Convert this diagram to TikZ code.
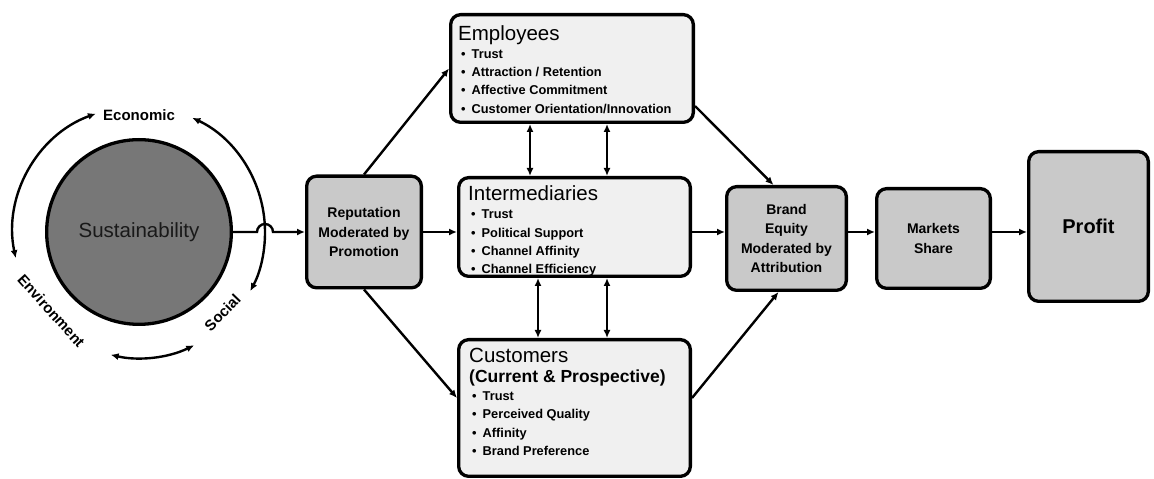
\documentclass[tikz,border=0pt]{standalone}
\usepackage{fontspec}
\setmainfont{Liberation Sans}
\usetikzlibrary{arrows.meta,positioning}
\definecolor{panelgray}{HTML}{C9C9C9}
\definecolor{panellight}{HTML}{F0F0F0}
\definecolor{coregray}{HTML}{777777}
\tikzstyle{driver}=[
	rectangle,
	rounded corners=10pt,
	line width=3.3pt,
	draw=black,
	fill=panelgray,
	align=center,
	font=\fontsize{14}{19.5}\selectfont\bfseries
]
\tikzstyle{stakeholder}=[
	rectangle,
	rounded corners=10pt,
	line width=3.3pt,
	draw=black,
	fill=panellight
]
\tikzstyle{itemlist}=[
	inner sep=0pt,
	anchor=north west,
	align=left,
	font=\fontsize{12.8}{18.3}\selectfont\bfseries
]
\tikzstyle{flow}=[
	-{Latex[length=8pt,width=7pt]},
	line width=2.4pt
]
\tikzstyle{link}=[
	{Latex[length=8pt,width=7pt]}-{Latex[length=8pt,width=7pt]},
	line width=2.4pt
]
\tikzstyle{pillar}=[
	inner sep=0pt,
	font=\fontsize{15}{15}\selectfont\bfseries
]
\newcommand{\bulletitem}{\hspace*{3pt}\textbullet\hspace{6pt}}
\newcommand{\paneltitle}[1]{{\fontsize{20.5}{18.3}\fontseries{m}\selectfont #1}}

\begin{document}
\begin{tikzpicture}[x=1pt,y=1pt]
\useasboundingbox (0,0) rectangle (1154,479);
\node [circle, draw=black, line width=3.3pt, fill=coregray, minimum size=184.7pt, inner sep=0pt,
	font=\fontsize{20.5}{22}\selectfont, text=black!90] (sus) at (139,247) {Sustainability};
% the three pillars round the core
\node [pillar] (econ) at ([shift={(90:117)}]sus.center) {Economic};
\node [pillar, rotate=-48] (envir) at ([shift={(222:118)}]sus.center) {Environment};
\node [pillar, rotate=46] (social) at ([shift={(-44:116)}]sus.center) {Social};
\draw[link] ([shift={(110:126)}]sus.center) arc[start angle=110, end angle=192, radius=126];
\draw[link] ([shift={(65:126)}]sus.center) arc[start angle=65, end angle=-28, radius=126];
\draw[link] ([shift={(257:126)}]sus.center) arc[start angle=257, end angle=296, radius=126];
% main chain
\node [driver, minimum width=114.7pt, minimum height=111.7pt, right=72pt of sus] (rep) {Reputation\\Moderated by\\Promotion};
\node [stakeholder, minimum width=231.7pt, minimum height=98.7pt, right=34pt of rep, yshift=5pt] (inter) {};
\node [stakeholder, minimum width=242.7pt, minimum height=107.7pt, above=52pt of inter, xshift=-2.5pt] (emp) {};
\node [stakeholder, minimum width=231.7pt, minimum height=136.7pt, below=60pt of inter] (cust) {};
\node [driver, minimum width=119.7pt, minimum height=103.7pt, right=33pt of inter, yshift=-11.5pt] (brand) {Brand\\Equity\\Moderated by\\Attribution};
\node [driver, minimum width=113.7pt, minimum height=99.7pt, right=27pt of brand] (market) {Markets\\Share};
\node [driver, minimum width=119.7pt, minimum height=149.7pt, right=35pt of market, yshift=12pt,
	font=\fontsize{20}{22}\selectfont\bfseries] (profit) {Profit};
% panel texts
\node [itemlist] (emplist) at ([shift={(9pt,-12pt)}]emp.north west)
	{\paneltitle{Employees}\\ \bulletitem Trust\\ \bulletitem Attraction / Retention\\
	\bulletitem Affective Commitment\\ \bulletitem Customer Orientation/Innovation};
\node [itemlist] (interlist) at ([shift={(11pt,-9.5pt)}]inter.north west)
	{\paneltitle{Intermediaries}\\ \bulletitem Trust\\ \bulletitem Political Support\\
	\bulletitem Channel Affinity\\ \bulletitem Channel Efficiency};
\node [itemlist] (custlist) at ([shift={(12pt,-10pt)}]cust.north west)
	{\paneltitle{Customers}\\[1.5pt] {\fontsize{17.5}{18.3}\selectfont (Current \& Prospective)}\\
	\bulletitem Trust\\ \bulletitem Perceived Quality\\ \bulletitem Affinity\\ \bulletitem Brand Preference};
% connectors
\draw[flow] (sus.east) -- ++(24,0) arc[start angle=180, end angle=0, radius=8] -- (rep.west);
\draw[flow] (rep.east) -- (rep.east -| inter.west);
\draw[flow] (rep.north) -- (emp.west);
\draw[flow] (rep.south) -- ([yshift=10pt]cust.west);
\draw[flow] ([yshift=18pt]emp.south east) -- ([xshift=-13pt]brand.north);
\draw[flow] ([yshift=10pt]cust.east) -- ([xshift=-8pt]brand.south);
\draw[flow] (inter.east |- rep.east) -- (rep.east -| brand.west);
\draw[flow] (brand.east |- rep.east) -- (rep.east -| market.west);
\draw[flow] (market.east |- rep.east) -- (rep.east -| profit.west);
\coordinate (empA) at ([xshift=-42pt]emp.south);
\coordinate (empB) at ([xshift=35pt]emp.south);
\coordinate (custA) at ([xshift=-36.5pt]cust.north);
\coordinate (custB) at ([xshift=32.5pt]cust.north);
\draw[link] (empA) -- (empA |- inter.north);
\draw[link] (empB) -- (empB |- inter.north);
\draw[link] (custA) -- (custA |- inter.south);
\draw[link] (custB) -- (custB |- inter.south);
\end{tikzpicture}
\end{document}
